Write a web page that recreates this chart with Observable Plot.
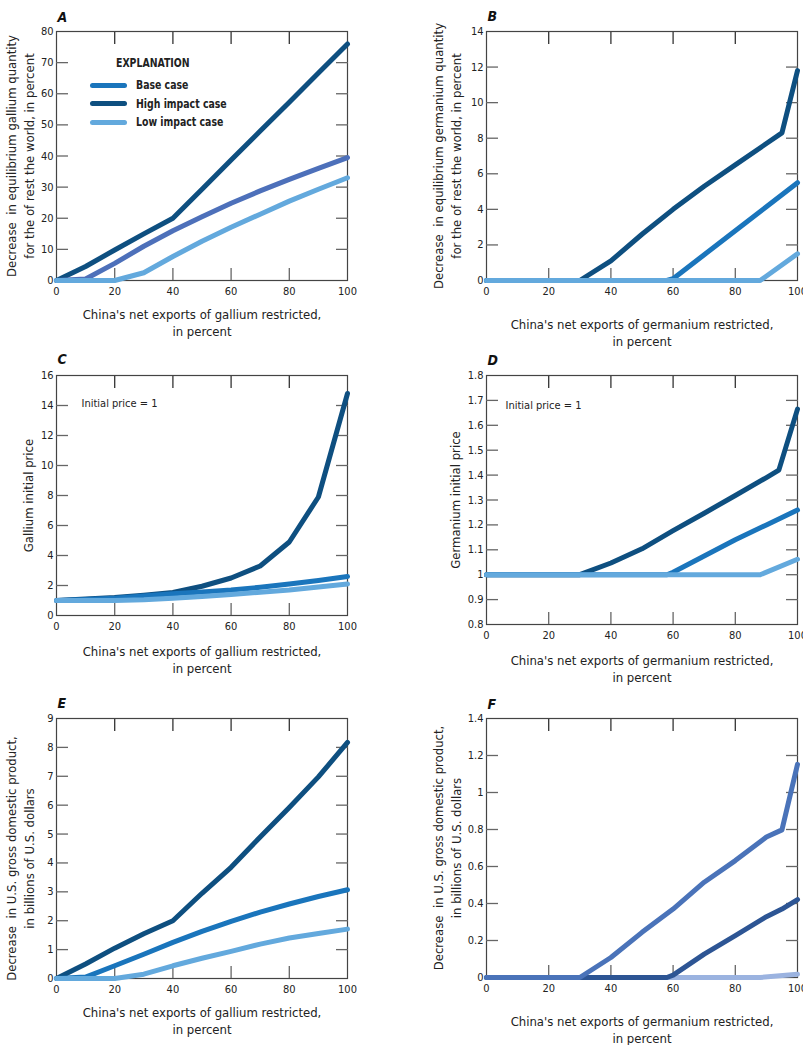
<!DOCTYPE html>
<html><head><meta charset="utf-8">
<script src="https://cdn.jsdelivr.net/npm/d3@7"></script>
<script src="https://cdn.jsdelivr.net/npm/@observablehq/plot@0.6"></script>
<style>
body{margin:0;background:#fff;}
#root{position:relative;width:803px;height:1045px;overflow:hidden;font-family:"Liberation Sans Narrow","DejaVu Sans Condensed",sans-serif;color:#222;}
.panel{position:absolute;}
.lg{position:absolute;font-weight:bold;font-size:13px;line-height:16px;white-space:nowrap;transform:scaleX(0.8);transform-origin:0 50%;}
.sw{position:absolute;height:5px;border-radius:3px;}
</style></head><body><div id="root"></div>
<script>
// ---------- data ----------
const cases = ["Base case", "High impact case", "Low impact case"];
const xTicks = [0, 20, 40, 60, 80, 100];
const xDecile = [0, 10, 20, 30, 40, 50, 60, 70, 80, 90, 100];

// A: gallium quantity decrease, rest of world (percent)
const aHigh = [0, 4.5, 9.8, 15, 20, 29.3, 38.7, 48, 57.3, 66.7, 76];
const aBase = [0, 0.5, 5.5, 11, 16, 20.5, 24.8, 28.8, 32.5, 36, 39.5];
const aLow  = [0, 0, 0, 2.5, 7.7, 12.6, 17.1, 21.3, 25.5, 29.3, 33];
const aYTicks = [0, 10, 20, 30, 40, 50, 60, 70, 80];

// B: germanium quantity decrease, rest of world (percent)
const bHighX = [0, 30, 40, 50, 60, 70, 80, 90, 95, 100];
const bHighY = [0, 0, 1.1, 2.6, 4.0, 5.3, 6.5, 7.7, 8.3, 11.8];
const bBaseX = [0, 58, 60, 70, 80, 90, 100];
const bBaseY = [0, 0, 0.1, 1.45, 2.8, 4.15, 5.5];
const bLowX  = [0, 88, 100];
const bLowY  = [0, 0, 1.5];
const bYTicks = [0, 2, 4, 6, 8, 10, 12, 14];

// C: gallium price (initial price = 1)
const cHigh = [1, 1.1, 1.2, 1.35, 1.53, 1.95, 2.5, 3.3, 4.9, 7.9, 14.8];
const cBase = [1, 1.07, 1.15, 1.3, 1.45, 1.57, 1.7, 1.88, 2.1, 2.33, 2.6];
const cLow  = [1, 1, 1, 1.05, 1.15, 1.27, 1.4, 1.55, 1.7, 1.9, 2.1];
const cYTicks = [0, 2, 4, 6, 8, 10, 12, 14, 16];

// D: germanium price (initial price = 1)
const dHighX = [0, 30, 40, 50, 60, 70, 80, 90, 94, 100];
const dHighY = [1, 1, 1.047, 1.104, 1.177, 1.247, 1.318, 1.39, 1.42, 1.665];
const dBaseX = [0, 58, 60, 70, 80, 90, 100];
const dBaseY = [1, 1, 1.01, 1.075, 1.14, 1.2, 1.26];
const dLowX  = [0, 88, 100];
const dLowY  = [1, 1, 1.062];
const dYTicks = [0.8, 0.9, 1, 1.1, 1.2, 1.3, 1.4, 1.5, 1.6, 1.7, 1.8];

// E: US GDP decrease, gallium (billions USD)
const eHigh = [0, 0.5, 1.05, 1.55, 2.0, 2.95, 3.85, 4.9, 5.92, 6.98, 8.17];
const eBase = [0, 0.05, 0.44, 0.84, 1.25, 1.63, 1.98, 2.3, 2.58, 2.84, 3.07];
const eLow  = [0, 0, 0, 0.15, 0.44, 0.7, 0.94, 1.19, 1.4, 1.56, 1.71];
const eYTicks = [0, 1, 2, 3, 4, 5, 6, 7, 8, 9];

// F: US GDP decrease, germanium (billions USD)
const fHighX = [0, 30, 40, 50, 60, 70, 80, 90, 95, 100];
const fHighY = [0, 0, 0.108, 0.244, 0.37, 0.515, 0.632, 0.759, 0.798, 1.152];
const fBaseX = [0, 58, 60, 70, 80, 90, 95, 100];
const fBaseY = [0, 0, 0.013, 0.126, 0.226, 0.329, 0.37, 0.421];
const fLowX  = [0, 88, 100];
const fLowY  = [0, 0, 0.018];
const fYTicks = [0, 0.2, 0.4, 0.6, 0.8, 1, 1.2, 1.4];

// ---------- styles ----------
const C = {high: "#0e4f80", base: "#1a75bc", low: "#63a9dd", baseA: "#4d70ba",
           fHigh: "#4a73b9", fBase: "#2d5594", fLow: "#9bb3e0"};
const FONT = '"Liberation Sans Narrow","DejaVu Sans Condensed",sans-serif';
const fmt = d => String(+d.toFixed(2));

function rows(name, xs, ys) { return xs.map((x, i) => ({case: name, x, y: ys[i]})); }

function panel(o) {
  const inner = a => a.slice(1, -1);
  const lineOpts = (stroke) => ({x: "x", y: "y", stroke, strokeWidth: 5, strokeLinecap: "round", strokeLinejoin: "round"});
  const marks = [
    Plot.frame({stroke: "#444", strokeWidth: 1.2}),
    Plot.axisX(inner(xTicks), {anchor: "bottom", tickSize: 12, dy: -12, tickFormat: () => "", label: null, stroke: "#666", strokeWidth: 1.3}),
    Plot.axisX(inner(xTicks), {anchor: "top", tickSize: 12, dy: 12, tickFormat: () => "", label: null, stroke: "#333", strokeWidth: 1.3}),
    Plot.axisY(inner(o.yTicks), {anchor: "left", tickSize: 12, dx: 12, tickFormat: () => "", label: null, stroke: "#666", strokeWidth: 1.3}),
    Plot.axisY(inner(o.yTicks), {anchor: "right", tickSize: 12, dx: -12, tickFormat: () => "", label: null, stroke: "#666", strokeWidth: 1.3}),
    Plot.axisX(xTicks, {anchor: "bottom", tickSize: 0, tickPadding: 7, label: null, fontSize: 11, fill: "#222"}),
    Plot.axisY(o.yTicks, {anchor: "left", tickSize: 0, tickPadding: 3, label: null, fontSize: 11, tickFormat: fmt, fill: "#222"}),
  ];
  for (const s of o.series) marks.push(Plot.line(s.data, lineOpts(s.color)));
  marks.push(
    Plot.text([o.letter], {frameAnchor: "top-left", textAnchor: "start", dx: 1, dy: o.letterDy, fontSize: 14, fontWeight: "bold", fontStyle: "italic", fill: "#111"}),
    Plot.text([o.ylabel], {frameAnchor: "left", rotate: -90, textAnchor: "middle", lineAnchor: "middle", dx: o.ylabelDx, dy: o.ylabelDy || 0, fontSize: 13, lineHeight: 1.38, fill: "#222"}),
    Plot.text([o.xlabel], {frameAnchor: "bottom", textAnchor: "middle", lineAnchor: "middle", dy: o.xlabelDy, fontSize: 13, lineHeight: 1.3, fill: "#222"})
  );
  if (o.note) marks.push(Plot.text([o.note], {frameAnchor: "top-left", textAnchor: "start", lineAnchor: "middle", dx: o.noteDx, dy: o.noteDy, fontSize: 11, fill: "#222"}));
  const svg = Plot.plot({
    width: o.width, height: o.height,
    marginLeft: o.ml, marginRight: o.mr, marginTop: o.mt, marginBottom: o.mb,
    x: {domain: [0, 100]},
    y: {domain: [o.yTicks[0], o.yTicks[o.yTicks.length - 1]]},
    style: {background: "transparent", overflow: "visible", fontFamily: FONT, fontSize: "11px"},
    marks
  });
  svg.classList.add("panel");
  svg.style.left = o.left + "px";
  svg.style.top = o.top + "px";
  svg.style.position = "absolute";
  svg.style.maxWidth = "none";
  document.getElementById("root").appendChild(svg);
}

const galX = "China's net exports of gallium restricted,\nin percent";
const geX = "China's net exports of germanium restricted,\nin percent";

panel({left: 0, top: 0, width: 400, height: 340, ml: 56, mr: 53, mt: 31, mb: 60,
  yTicks: aYTicks, letter: "A", letterDy: -19,
  ylabel: "Decrease  in equilibrium gallium quantity\nfor the of rest the world, in percent", ylabelDx: -37,
  xlabel: galX, xlabelDy: 41.5,
  series: [
    {data: rows(cases[1], xDecile, aHigh), color: C.high},
    {data: rows(cases[0], xDecile, aBase), color: C.baseA},
    {data: rows(cases[2], xDecile, aLow), color: C.low}]});

panel({left: 400, top: 0, width: 403, height: 340, ml: 86, mr: 6, mt: 31, mb: 60,
  yTicks: bYTicks, letter: "B", letterDy: -20,
  ylabel: "Decrease  in equilibrium germanium quantity\nfor the of rest the world, in percent", ylabelDx: -40,
  xlabel: geX, xlabelDy: 51.5,
  series: [
    {data: rows(cases[1], bHighX, bHighY), color: C.high},
    {data: rows(cases[0], bBaseX, bBaseY), color: C.base},
    {data: rows(cases[2], bLowX, bLowY), color: C.low}]});

panel({left: 0, top: 340, width: 400, height: 340, ml: 56, mr: 53, mt: 35, mb: 65,
  yTicks: cYTicks, letter: "C", letterDy: -21,
  ylabel: "Gallium initial price", ylabelDx: -29,
  xlabel: galX, xlabelDy: 43.5, note: "Initial price = 1", noteDx: 25, noteDy: 28,
  series: [
    {data: rows(cases[1], xDecile, cHigh), color: C.high},
    {data: rows(cases[0], xDecile, cBase), color: C.base},
    {data: rows(cases[2], xDecile, cLow), color: C.low}]});

panel({left: 400, top: 340, width: 403, height: 340, ml: 86, mr: 6, mt: 35, mb: 56,
  yTicks: dYTicks, letter: "D", letterDy: -20,
  ylabel: "Germanium initial price", ylabelDx: -32,
  xlabel: geX, xlabelDy: 43.5, note: "Initial price = 1", noteDx: 19, noteDy: 30,
  series: [
    {data: rows(cases[1], dHighX, dHighY), color: C.high},
    {data: rows(cases[0], dBaseX, dBaseY), color: C.base},
    {data: rows(cases[2], dLowX, dLowY), color: C.low}]});

panel({left: 0, top: 680, width: 400, height: 365, ml: 56, mr: 53, mt: 38, mb: 67,
  yTicks: eYTicks, letter: "E", letterDy: -20,
  ylabel: "Decrease  in U.S. gross domestic product,\nin billions of U.S. dollars", ylabelDx: -37, ylabelDy: 10,
  xlabel: galX, xlabelDy: 42,
  series: [
    {data: rows(cases[1], xDecile, eHigh), color: C.high},
    {data: rows(cases[0], xDecile, eBase), color: C.base},
    {data: rows(cases[2], xDecile, eLow), color: C.low}]});

panel({left: 400, top: 680, width: 403, height: 365, ml: 86, mr: 6, mt: 38, mb: 68,
  yTicks: fYTicks, letter: "F", letterDy: -19,
  ylabel: "Decrease  in U.S. gross domestic product,\nin billions of U.S. dollars", ylabelDx: -40,
  xlabel: geX, xlabelDy: 51.5,
  series: [
    {data: rows(cases[2], fLowX, fLowY), color: C.fLow},
    {data: rows(cases[0], fBaseX, fBaseY), color: C.fBase},
    {data: rows(cases[1], fHighX, fHighY), color: C.fHigh}]});

// ---------- legend (panel A) ----------
const root = document.getElementById("root");
const legendColors = [C.base, C.high, C.low];
const title = document.createElement("div");
title.className = "lg"; title.textContent = "EXPLANATION";
title.style.left = "116px"; title.style.top = "55px";
root.appendChild(title);
cases.forEach((name, i) => {
  const yc = 85 + i * 18.7;
  const sw = document.createElement("div");
  sw.className = "sw"; sw.style.left = "90px"; sw.style.width = "37px";
  sw.style.top = (yc - 2.5) + "px"; sw.style.background = legendColors[i];
  root.appendChild(sw);
  const t = document.createElement("div");
  t.className = "lg"; t.textContent = name;
  t.style.left = "136px"; t.style.top = (yc - 8) + "px";
  root.appendChild(t);
});
</script></body></html>
